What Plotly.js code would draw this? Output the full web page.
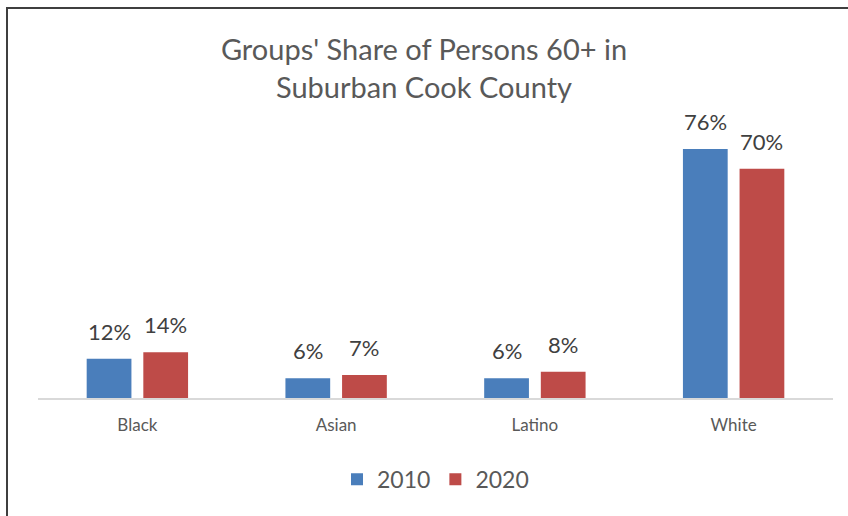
<!DOCTYPE html>
<html>
<head>
<meta charset="utf-8">
<script src="https://cdn.plot.ly/plotly-3.0.1.min.js"></script>
<style>
  html, body { margin: 0; padding: 0; background: #ffffff; }
  #wrap { position: relative; width: 848px; height: 516px; overflow: hidden; background: #ffffff; }
  #frame { position: absolute; left: 6px; top: 7px; width: 900px; height: 600px;
           border-left: 2px solid #3f3f3f; border-top: 2px solid #3f3f3f; pointer-events: none; }
  #chart { position: absolute; left: 0; top: 0; width: 848px; height: 516px; }
</style>
</head>
<body>
<div id="wrap">
  <div id="chart"></div>
  <div id="frame"></div>
</div>
<script>
const categories = ['Black', 'Asian', 'Latino', 'White'];
const values2010 = [12, 6, 6, 76];
const values2020 = [14, 7, 8, 70];
const seriesNames = ['2010', '2020'];
const titleText = "Groups' Share of Persons 60+ in<br>Suburban Cook County";

const fontFam = 'Lato, "Open Sans", "DejaVu Sans", sans-serif';
const colors = ['#4a7ebb', '#be4b48'];
const series = [values2010, values2020];

const data = series.map((vals, i) => ({
  type: 'bar',
  name: seriesNames[i],
  x: categories,
  y: vals,
  marker: { color: colors[i] },
  hoverinfo: 'x+y'
}));

const annotations = [];
series.forEach((vals, i) => {
  vals.forEach((v, j) => {
    annotations.push({
      x: categories[j],
      y: v,
      xref: 'x',
      yref: 'y',
      text: v + '%',
      showarrow: false,
      xanchor: 'center',
      yanchor: 'bottom',
      xshift: i === 0 ? -28 : 28,
      yshift: 12,
      font: { family: fontFam, size: 22, color: '#404040' }
    });
  });
});

const layout = {
  width: 848,
  height: 516,
  paper_bgcolor: '#ffffff',
  plot_bgcolor: '#ffffff',
  margin: { l: 38, r: 15, t: 136, b: 118 },
  barmode: 'group',
  bargap: 0.43,
  bargroupgap: 0.21,
  title: {
    text: titleText,
    font: { family: fontFam, size: 29, color: '#595959' },
    x: 0.5,
    xanchor: 'center',
    y: 0.884,
    yanchor: 'middle'
  },
  xaxis: {
    type: 'category',
    showline: true,
    linecolor: '#d9d9d9',
    linewidth: 1.5,
    ticks: '',
    showgrid: false,
    zeroline: false,
    tickfont: { family: fontFam, size: 17, color: '#595959' },
    ticklabelstandoff: 11
  },
  yaxis: {
    range: [0, 80],
    visible: false,
    showgrid: false,
    zeroline: false
  },
  annotations: annotations,
  showlegend: true,
  legend: {
    orientation: 'h',
    x: 0.5,
    xanchor: 'center',
    y: -0.31,
    yanchor: 'middle',
    font: { family: fontFam, size: 23, color: '#595959' },
    traceorder: 'normal'
  }
};

Plotly.newPlot('chart', data, layout, { displayModeBar: false, staticPlot: true });
</script>
</body>
</html>
